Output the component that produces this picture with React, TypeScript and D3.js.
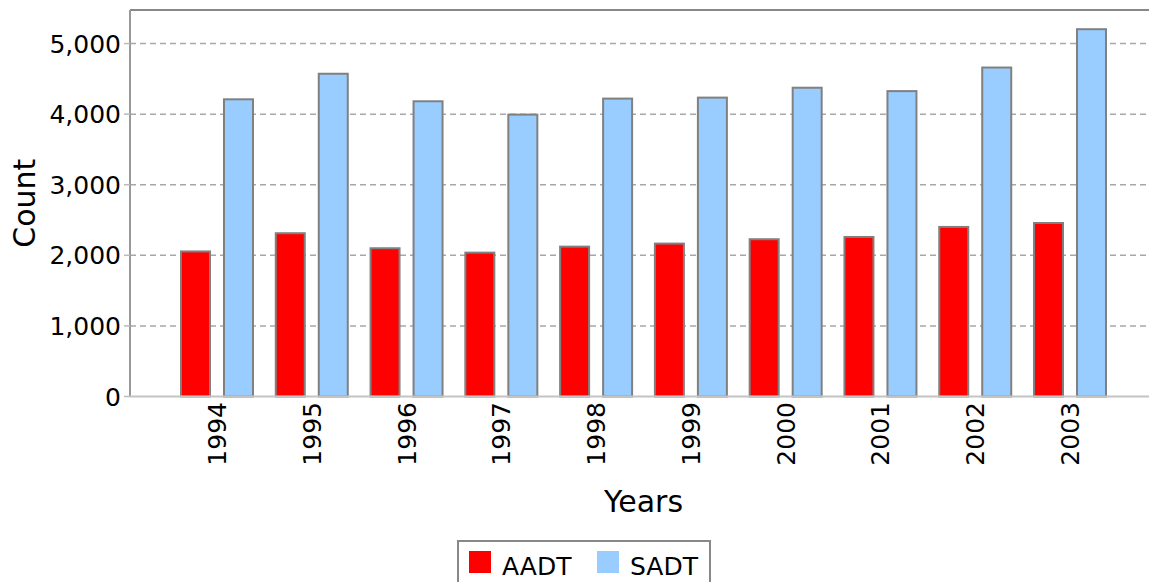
import React from "react";
import * as d3 from "d3";

const years = ["1994", "1995", "1996", "1997", "1998", "1999", "2000", "2001", "2002", "2003"];
const series = ["AADT", "SADT"];
const aadt = [2055, 2313, 2100, 2038, 2123, 2166, 2228, 2260, 2402, 2458];
const sadt = [4210, 4572, 4182, 3993, 4220, 4234, 4374, 4326, 4660, 5203];
const yTicks = [0, 1000, 2000, 3000, 4000, 5000];
const colors = ["#ff0000", "#99ccff"];

const width = 1149, height = 582;
const plot = { left: 130, top: 10, right: 1157, bottom: 396.5 };
const font = "'DejaVu Sans', sans-serif";

export default function App() {
  const x0 = d3.scaleBand().domain(years)
    .range([plot.left, plot.right])
    .paddingInner(0.2405)
    .paddingOuter(0.538);
  const x1 = d3.scaleBand().domain(series)
    .range([0, x0.bandwidth()])
    .paddingInner(0.3256);
  const y = d3.scaleLinear().domain([0, 5475]).range([plot.bottom, plot.top]);
  const fmt = d3.format(",");
  const values = [aadt, sadt];

  return (
    <svg width={width} height={height} style={{ position: "absolute", left: 0, top: 0, background: "#fff" }}
      fontFamily={font}>
      {/* gridlines */}
      {yTicks.filter(t => t > 0).map(t => (
        <line key={t} x1={plot.left} x2={width} y1={y(t)} y2={y(t)}
          stroke="#a8a8a8" strokeWidth={1.5} strokeDasharray="6,4" />
      ))}

      {/* bars */}
      {years.map((yr, i) => (
        <g key={yr} transform={`translate(${x0(yr)},0)`}>
          {series.map((s, j) => (
            <rect key={s} x={x1(s)} y={y(values[j][i])} width={x1.bandwidth()}
              height={plot.bottom - y(values[j][i])}
              fill={colors[j]} stroke="#808080" strokeWidth={2} />
          ))}
        </g>
      ))}

      {/* plot outline */}
      <line x1={plot.left} x2={width} y1={plot.top} y2={plot.top} stroke="#888" strokeWidth={2} />
      <line x1={plot.left} x2={plot.left} y1={plot.top} y2={plot.bottom} stroke="#999" strokeWidth={2} />
      <line x1={plot.left} x2={width} y1={plot.bottom} y2={plot.bottom} stroke="#c4c4c4" strokeWidth={2} />

      {/* y axis */}
      {yTicks.map(t => (
        <g key={t}>
          <line x1={plot.left - 6} x2={plot.left} y1={y(t)} y2={y(t)} stroke="#bbb" strokeWidth={1.5} />
          <text x={121} y={y(t)} dy="0.36em" textAnchor="end" fontSize={25} fill="#000">{fmt(t)}</text>
        </g>
      ))}
      <text transform={`translate(35,${(plot.top + plot.bottom) / 2}) rotate(-90)`}
        textAnchor="middle" fontSize={30} fill="#000">Count</text>

      {/* x axis */}
      {years.map(yr => (
        <text key={yr} transform={`translate(${x0(yr)! + x0.bandwidth() / 2},402) rotate(-90)`}
          dy="0.36em" textAnchor="end" fontSize={25} fill="#000">{yr}</text>
      ))}
      <text x={(plot.left + plot.right) / 2} y={512} textAnchor="middle" fontSize={30} fill="#000">Years</text>

      {/* legend */}
      <rect x={458} y={541} width={252} height={50} fill="#fff" stroke="#888" strokeWidth={2} />
      {series.map((s, j) => (
        <g key={s} transform={`translate(${j === 0 ? 469 : 597},551)`}>
          <rect width={22} height={22} fill={colors[j]} />
          <text x={33} y={24} fontSize={25} fill="#000">{s}</text>
        </g>
      ))}
    </svg>
  );
}
